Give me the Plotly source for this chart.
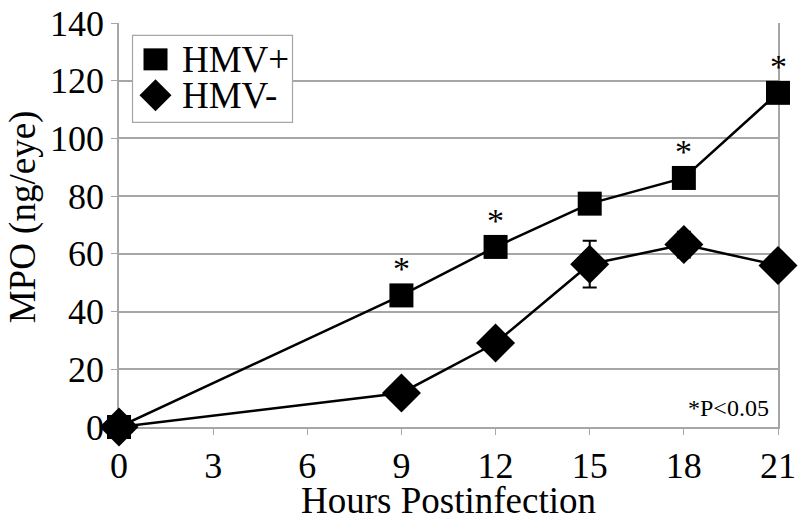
import plotly.graph_objects as go

hours = [0, 9, 12, 15, 18, 21]
hmv_pos = [0, 45.6, 62.4, 77.4, 86.3, 115.8]
hmv_neg = [0, 11.8, 29.1, 56.4, 63.2, 56.0]
hmv_neg_err = [0, 0, 0, 8.1, 4.5, 0]
significant = [False, True, True, False, True, True]
series_names = ["HMV+", "HMV-"]
x_ticks = [0, 3, 6, 9, 12, 15, 18, 21]
y_ticks = [0, 20, 40, 60, 80, 100, 120, 140]

FONT = "Liberation Serif"
GRID = "#a6a6a6"

fig = go.Figure()

fig.add_trace(go.Scatter(
    x=hours, y=hmv_pos, mode="lines+markers", name=series_names[0],
    line=dict(color="black", width=2.5),
    marker=dict(symbol="square", size=24, color="black"),
    cliponaxis=False, showlegend=False,
))
fig.add_trace(go.Scatter(
    x=hours, y=hmv_neg, mode="lines+markers", name=series_names[1],
    line=dict(color="black", width=2.5),
    marker=dict(symbol="diamond", size=30, color="black"),
    error_y=dict(type="data", array=hmv_neg_err, visible=True,
                 color="black", thickness=2, width=7),
    cliponaxis=False, showlegend=False,
))

for h, v, s in zip(hours, hmv_pos, significant):
    if s:
        fig.add_annotation(x=h, y=v, text="*", showarrow=False,
                           yanchor="bottom", yshift=6,
                           font=dict(family=FONT, size=34, color="black"))

fig.add_annotation(xref="paper", yref="paper", x=0.99, y=0.046,
                   xanchor="right", yanchor="middle", showarrow=False,
                   text="*P<0.05", font=dict(family=FONT, size=24, color="black"))

# axis titles
fig.add_annotation(xref="paper", yref="paper", x=0.5, y=0, yshift=-73,
                   xanchor="center", yanchor="middle", showarrow=False,
                   text="Hours Postinfection", font=dict(family=FONT, size=37, color="black"))
fig.add_annotation(xref="paper", yref="paper", x=0, xshift=-96, y=0.519,
                   xanchor="center", yanchor="middle", showarrow=False, textangle=-90,
                   text="MPO (ng/eye)", font=dict(family=FONT, size=37, color="black"))

# legend box (drawn manually so symbols keep their size)
fig.add_shape(type="rect", xref="paper", yref="paper",
              x0=0.0205, x1=0.2633, y0=0.7542, y1=0.9696,
              line=dict(color=GRID, width=1.2), fillcolor="white", layer="above")
fig.add_shape(type="rect", xref="paper", yref="paper", xsizemode="pixel", ysizemode="pixel",
              xanchor=0.0554, yanchor=0.910, x0=-12, x1=12, y0=-11, y1=11,
              line=dict(width=0), fillcolor="black", layer="above")
fig.add_shape(type="path", xref="paper", yref="paper", xsizemode="pixel", ysizemode="pixel",
              xanchor=0.0554, yanchor=0.821, path="M -16 0 L 0 16 L 16 0 L 0 -16 Z",
              line=dict(width=0), fillcolor="black", layer="above")
for name, yy in zip(series_names, [0.910, 0.821]):
    fig.add_annotation(xref="paper", yref="paper", x=0.0933, y=yy,
                       xanchor="left", yanchor="middle", showarrow=False,
                       text=name, font=dict(family=FONT, size=37, color="black"))

fig.update_layout(
    width=800, height=525,
    margin=dict(l=119, r=22, t=23, b=98),
    paper_bgcolor="white", plot_bgcolor="white",
    font=dict(family=FONT, size=36, color="black"),
    showlegend=False,
    xaxis=dict(range=[0, 21], tickvals=x_ticks, ticktext=[str(t) for t in x_ticks],
               showgrid=False, showline=True, linecolor=GRID, linewidth=1.5,
               ticks="outside", ticklen=6, tickcolor=GRID, automargin=False,
               layer="below traces",
               tickfont=dict(family=FONT, size=36), zeroline=False),
    yaxis=dict(range=[0, 140], tickvals=y_ticks, automargin=False,
               showgrid=True, gridcolor=GRID, gridwidth=1.5,
               showline=True, linecolor=GRID, linewidth=1.5, mirror=True,
               ticks="outside", ticklen=6, tickcolor=GRID,
               layer="below traces",
               tickfont=dict(family=FONT, size=36), zeroline=False),
)

# remove the default 8px page margin so the figure sits at the window's corner
fig.write_html("out.html", config={"displayModeBar": False},
               post_script="document.body.style.margin='0';")
